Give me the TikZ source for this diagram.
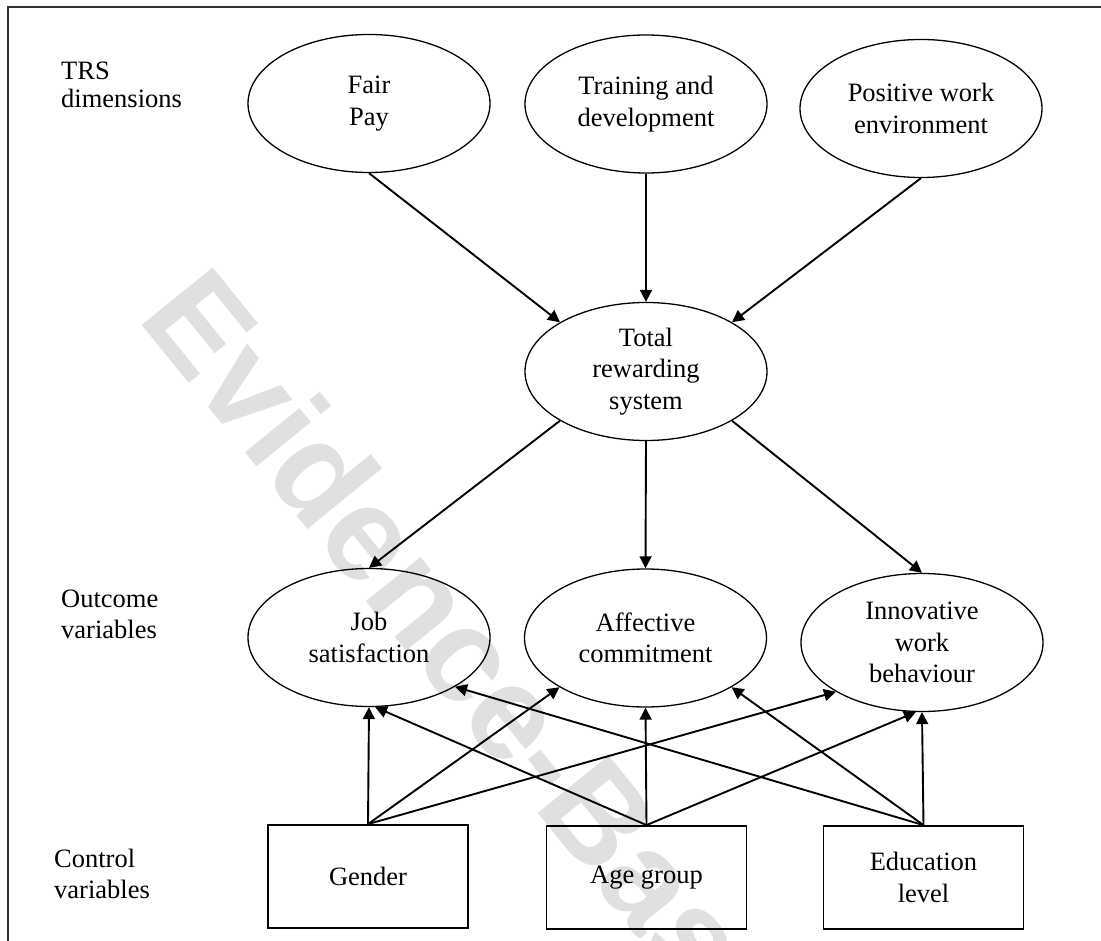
\documentclass[tikz,border=0pt]{standalone}
\usepackage{fontspec}
\setmainfont{Liberation Serif}
\newfontfamily\wmfont{Liberation Sans}
\usetikzlibrary{shapes.geometric,arrows.meta}
\begin{document}
\begin{tikzpicture}[x=1pt,y=-1pt,
  every node/.style={font=\fontsize{26.5}{31.5}\selectfont, inner sep=0pt},
  oval/.style={draw, ellipse, line width=1.3pt, minimum width=242pt, minimum height=138pt, align=center},
  ctrl/.style={draw, rectangle, line width=1.8pt, minimum width=200pt, minimum height=103pt, align=center},
  lab/.style={anchor=base west},
  arr/.style={-{Triangle[length=12pt,width=12pt]}, line width=1.9pt}]
\useasboundingbox (0,0) rectangle (1101,941);
% watermark
\node[font=\wmfont\bfseries\fontsize{133}{133}\selectfont, text=black!12, rotate=-51] (wm) at (497,688) {Evidence-Based};
% frame
\draw[line width=2pt, black!80] (8,960) -- (8,7) -- (1120,7);
% side labels
\node[lab] (l1a) at (61,80) {TRS};
\node[lab] (l1b) at (61,108) {dimensions};
\node[lab] (l2a) at (61,607) {Outcome};
\node[lab] (l2b) at (61,638) {variables};
\node[lab] (l3a) at (54,867) {Control};
\node[lab] (l3b) at (54,898) {variables};
% top ellipses
\node[oval] (fair) at (369,103.5) {Fair\\Pay};
\node[oval] (train) at (646,104) {Training and\\development};
\node[oval] (pos) at (921,108.5) {Positive work\\environment};
\node[oval] (total) at (646,371.5) {Total\\rewarding\\system};
% outcomes
\node[oval] (job) at (369,637.5) {Job\\satisfaction};
\node[oval] (aff) at (645.5,638) {Affective\\commitment};
\node[oval] (inn) at (922,642.5) {Innovative\\work\\behaviour};
% controls
\node[ctrl] (gender) at (368,876.5) {Gender};
\node[ctrl] (age) at (646.5,877.5) {Age group};
\node[ctrl] (edu) at (923.5,877.5) {Education\\level};
% arrows top
\draw[arr] (fair.south) -- (total.north west);
\draw[arr] (train.south) -- (total.north);
\draw[arr] (pos.south) -- (total.north east);
\draw[arr] (total.south west) -- (job.north);
\draw[arr] (total.south) -- (aff.north);
\draw[arr] (total.south east) -- (inn.north);
% control arrows
\draw[arr] (gender.north) -- (job.south);
\draw[arr] (gender.north) -- (aff.south west);
\draw[arr] (gender.north) -- (inn.south west);
\draw[arr] (age.north) -- (job.-85);
\draw[arr] (age.north) -- (aff.south);
\draw[arr] (age.north) -- (inn.-95);
\draw[arr] (edu.north) -- (job.south east);
\draw[arr] (edu.north) -- (aff.south east);
\draw[arr] (edu.north) -- (inn.south);
\end{tikzpicture}
\end{document}
